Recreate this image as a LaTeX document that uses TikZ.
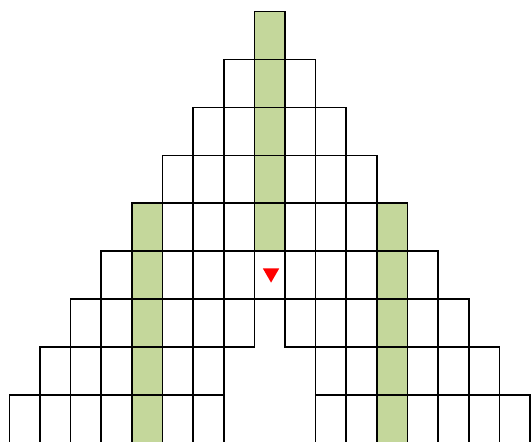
\documentclass[tikz,border=0pt]{standalone}
\usetikzlibrary{shapes.geometric}
\definecolor{leafgreen}{HTML}{C4D79B}
\begin{document}
\begin{tikzpicture}[
  x=1cm, y=1.5638cm,
  cell/.style={draw, line width=1.5pt, minimum width=1cm, minimum height=1.5638cm, inner sep=0pt, outer sep=0pt},
  leaf/.style={cell, fill=leafgreen},
  pointer/.style={regular polygon, regular polygon sides=3, shape border rotate=180, fill=red, minimum size=17.5pt, inner sep=0pt}
]
\useasboundingbox (-0.304,0.033) rectangle (17.033,9.244);
% cells: row r counted from the top, column c from the left
\foreach \r in {0,...,8}{
  \foreach \c in {0,...,16}{
    \pgfmathtruncatemacro{\d}{abs(\c-8)}
    \pgfmathtruncatemacro{\keep}{(\d<=\r) && !(\r>=6 && \d<=min(\r-6,1))}
    \pgfmathtruncatemacro{\green}{(\c==8 && \r<=4) || ((\c==4 || \c==12) && \r>=4)}
    \ifnum\keep=1
      \ifnum\green=1
        \node[leaf] (c\r-\c) at (\c+0.5,8.5-\r) {};
      \else
        \node[cell] (c\r-\c) at (\c+0.5,8.5-\r) {};
      \fi
    \fi
  }
}
\node[pointer] (drop) at ([xshift=1.3pt,yshift=1.8pt]c5-8.center) {};
\end{tikzpicture}
\end{document}
